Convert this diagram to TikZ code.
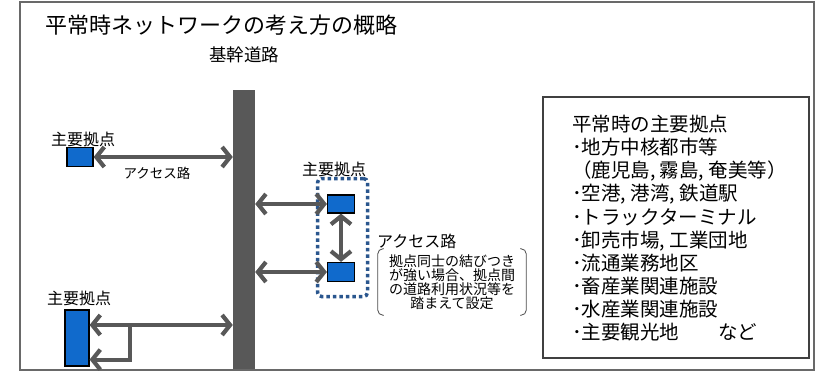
\documentclass[tikz,border=0pt]{standalone}
\usepackage{fontspec}
\setmainfont{Noto Sans CJK JP}
\usetikzlibrary{arrows.meta}
\definecolor{roadgray}{RGB}{88,88,88}
\definecolor{hubblue}{RGB}{16,106,204}
\definecolor{dotblue}{RGB}{42,86,142}
\definecolor{framegray}{RGB}{105,105,105}

\begin{document}
\begin{tikzpicture}[x=1pt, y=-1pt,
    hub/.style = {draw=black, line width=1.2pt, fill=hubblue, minimum width=26pt, minimum height=19pt, inner sep=0pt},
    lbl/.style = {font=\fontsize{16}{16}\selectfont, inner sep=0pt},
    acc/.style = {draw=roadgray, line width=4.2pt, >={Straight Barb[length=8pt,width=20pt,line width=4.2pt]}},
    brk/.style = {draw=black!70, line width=0.8pt, rounded corners=5pt}]
    \useasboundingbox (0,0) rectangle (821,372);
    \draw[framegray, line width=1.5pt] (20,2) rectangle (814,370);

    \node[font=\fontsize{22}{26}\selectfont] (title) at (221,25) {平常時ネットワークの考え方の概略};
    \node[font=\fontsize{17.5}{18}\selectfont] (roadlbl) at (244,55) {基幹道路};
    \node[fill=roadgray, minimum width=22pt, minimum height=279pt, inner sep=0pt] (road) at (244,229.5) {};

    \node[hub] (hubA) at (80,157) {};
    \node[lbl] at (83,139) {主要拠点};
    \node[font=\fontsize{13.5}{14}\selectfont] at (157,173) {アクセス路};
    \draw[acc, <->] (hubA) -- (hubA -| road.west);

    \node[draw=dotblue, line width=3.5pt, dash pattern=on 3.5pt off 3pt, rounded corners=4pt, minimum width=50pt, minimum height=118pt] (grp) at (342.5,237.5) {};
    \node[hub, minimum width=27pt, minimum height=18pt] (hubB) at (341,204) {};
    \node[hub, minimum width=27pt] (hubC) at (341,272) {};
    \node[lbl] at (334,169) {主要拠点};
    \draw[acc, <->] (road.east |- hubB) -- (hubB);
    \draw[acc, <->] (road.east |- hubC) -- (hubC);
    \draw[acc, <->] (hubB) -- (hubC);

    \node[lbl, anchor=west] at (377,241) {アクセス路};
    \node[align=center, font=\fontsize{14}{14}\selectfont, minimum width=148pt, minimum height=66pt, inner sep=0pt] (note) at (452,282)
        {拠点同士の結びつき\\が強い場合、拠点間\\の道路利用状況等を\\踏まえて設定};
    \draw[brk] ([xshift=6pt]note.north west) -- (note.north west) -- (note.south west) -- ([xshift=6pt]note.south west);
    \draw[brk] ([xshift=-6pt]note.north east) -- (note.north east) -- (note.south east) -- ([xshift=-6pt]note.south east);

    \node[hub, minimum width=24pt, minimum height=56pt] (hubD) at (77,338) {};
    \node[lbl] at (79,298) {主要拠点};
    \coordinate (jn) at (130,325);
    \path (hubD.south east) ++(0,-7) coordinate (lo);
    \draw[acc, <->] (hubD.east |- jn) -- (jn -| road.west);
    \draw[acc, ->] (jn) |- (lo);

    \node[draw=black!75, line width=2pt, minimum width=266pt, minimum height=261pt] (listbox) at (676,227.5) {};
    \node[anchor=north west, align=left, inner sep=0pt, font=\fontsize{19.5}{23.1}\selectfont] (list) at (572,115)
        {平常時の主要拠点\\
         ･地方中核都市等\\
         （鹿児島, 霧島, 奄美等）\\
         ･空港, 港湾, 鉄道駅\\
         ･トラックターミナル\\
         ･卸売市場, 工業団地\\
         ･流通業務地区\\
         ･畜産業関連施設\\
         ･水産業関連施設\\
         ･主要観光地\quad\quad など};
\end{tikzpicture}
\end{document}
